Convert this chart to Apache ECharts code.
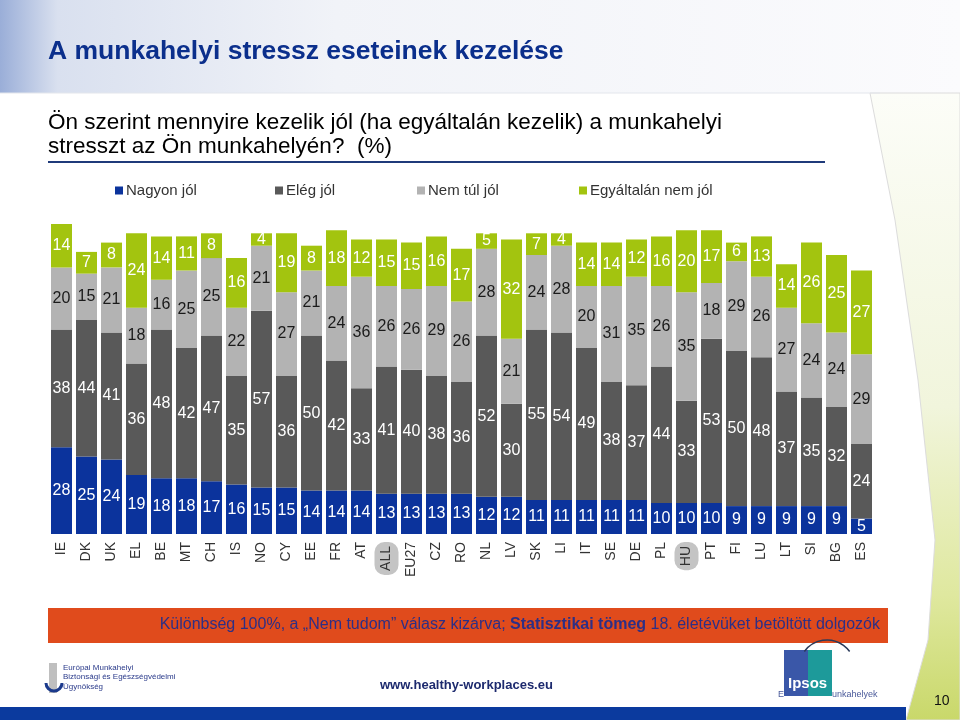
<!DOCTYPE html>
<html>
<head>
<meta charset="utf-8">
<script src="https://cdn.jsdelivr.net/npm/echarts@6/dist/echarts.min.js"></script>
<style>html,body{margin:0;padding:0;background:#fff;}#c{width:960px;height:720px;}</style>
</head>
<body>
<div id="c"></div>
<script>
const categories = ['IE','DK','UK','EL','BE','MT','CH','IS','NO','CY','EE','FR','AT','ALL','EU27','CZ','RO','NL','LV','SK','LI','IT','SE','DE','PL','HU','PT','FI','LU','LT','SI','BG','ES'];
const nagyonJol = [28,25,24,19,18,18,17,16,15,15,14,14,14,13,13,13,13,12,12,11,11,11,11,11,10,10,10,9,9,9,9,9,5];
const elegJol   = [38,44,41,36,48,42,47,35,57,36,50,42,33,41,40,38,36,52,30,55,54,49,38,37,44,33,53,50,48,37,35,32,24];
const nemTulJol = [20,15,21,18,16,25,25,22,21,27,21,24,36,26,26,29,26,28,21,24,28,20,31,35,26,35,18,29,26,27,24,24,29];
const egyaltalanNemJol = [14,7,8,24,14,11,8,16,4,19,8,18,12,15,15,16,17,5,32,7,4,14,14,12,16,20,17,6,13,14,26,25,27];
const seriesNames = ['Nagyon jól','Elég jól','Nem túl jól','Egyáltalán nem jól'];
const highlighted = ['ALL','HU'];

const FONT = "'Liberation Sans',Arial,sans-serif";
const colors = ['#0b339c','#595959','#b3b3b3','#a3c40f'];
const labelColors = ['#ffffff','#ffffff','#1a1a1a','#ffffff'];
const dataSets = [nagyonJol, elegJol, nemTulJol, egyaltalanNemJol];

const chart = echarts.init(document.getElementById('c'), null, {renderer:'canvas'});

const series = dataSets.map((d,i)=>({
  name: seriesNames[i],
  type: 'bar',
  stack: 'total',
  data: d,
  barWidth: 21,
  itemStyle: {color: colors[i]},
  label: {show:true, position:'inside', color: labelColors[i], fontSize:16, fontFamily: FONT},
  emphasis: {disabled:true}
}));

const legendX = [110, 270, 412, 574];
const legends = seriesNames.map((n,i)=>({
  data:[n], left: legendX[i], top: 178, icon:'rect', itemWidth:8, itemHeight:8, itemGap:4,
  textStyle:{fontSize:15, color:'#333', fontFamily: FONT, padding:[0,0,0,-2]}, selectedMode:false
}));

chart.setOption({
  animation:false,
  backgroundColor:'#ffffff',
  color: colors,
  legend: legends,
  grid: {left:49, right:86, top:224, bottom:186, containLabel:false},
  xAxis: {
    type:'category', data: categories,
    axisLine:{show:false}, axisTick:{show:false},
    axisLabel:{
      rotate:90, margin:8, fontSize:14, color:'#333', fontFamily: FONT, interval:0,
      formatter: v => highlighted.includes(v) ? '{h|'+v+'}' : v,
      rich:{h:{backgroundColor:'#c4c4c4', borderRadius:10, padding:[5,4,5,4], fontSize:14, color:'#333', fontFamily: FONT}}
    }
  },
  yAxis: {type:'value', min:0, max:100, show:false, splitLine:{show:false}},
  series: series,
  graphic: [
    {type:'rect', z:-10, shape:{x:0,y:0,width:960,height:93},
      style:{fill:new echarts.graphic.LinearGradient(0,0,1,0,[{offset:0,color:'#9aaed8'},{offset:0.06,color:'#d9e0ef'},{offset:0.35,color:'#f1f3f8'},{offset:1,color:'#fbfbfd'}])}},
    {type:'line', z:-9, shape:{x1:0,y1:93,x2:880,y2:93}, style:{stroke:'#e3e6ec', lineWidth:1}},
    {type:'polygon', z:-10, shape:{points:[[870,93],[895,220],[918,380],[935,540],[928,640],[906,720],[960,720],[960,93]]},
      style:{fill:new echarts.graphic.LinearGradient(0,0,0,1,[{offset:0,color:'#fcfdf8'},{offset:0.5,color:'#f1f5dc'},{offset:0.8,color:'#dfe89f'},{offset:1,color:'#c9d86a'}]), stroke:'#dcdcdc', lineWidth:1}},
    {type:'text', left:48, top:38, style:{text:'A munkahelyi stressz eseteinek kezelése', fontSize:26.5, fontWeight:'bold', fill:'#0b2f8c', fontFamily: FONT}},
    {type:'text', left:48, top:111, style:{text:'Ön szerint mennyire kezelik jól (ha egyáltalán kezelik) a munkahelyi\nstresszt az Ön munkahelyén?  (%)', fontSize:22.5, lineHeight:24, fill:'#000', fontFamily: FONT}},
    {type:'line', shape:{x1:48,y1:162,x2:825,y2:162}, style:{stroke:'#1f3a7a', lineWidth:2}},
    {type:'rect', shape:{x:48,y:608,width:840,height:35}, style:{fill:'#e04b1c'}},
    {type:'text', right:80, top:617, style:{
      text:'{n|Különbség 100%, a „Nem tudom” válasz kizárva; }{b|Statisztikai tömeg}{n| 18. életévüket betöltött dolgozók}',
      rich:{n:{fontSize:16, fill:'#2d2f86', fontFamily: FONT}, b:{fontSize:16, fontWeight:'bold', fill:'#2d2f86', fontFamily: FONT}}
    }},
    {type:'rect', shape:{x:0,y:707,width:906,height:13}, style:{fill:'#0b3a9e'}},
    {type:'text', left:934, top:694, style:{text:'10', fontSize:14, fill:'#111', fontFamily: FONT}},
    {type:'text', left:380, top:679, style:{text:'www.healthy-workplaces.eu', fontSize:13, fontWeight:'bold', fill:'#1d2a6e', fontFamily: FONT}},
    {type:'rect', shape:{x:49,y:663,width:8,height:30}, style:{fill:'#bfbfbf'}},
    {type:'arc', shape:{cx:54,cy:683,r:8,startAngle:0,endAngle:Math.PI}, style:{stroke:'#1b3a8c', lineWidth:3, fill:'none'}},
    {type:'text', left:63, top:663, style:{text:'Európai Munkahelyi\nBiztonsági és Egészségvédelmi\nÜgynökség', fontSize:8, lineHeight:9.5, fill:'#2a3a8a', fontFamily: FONT}},
    {type:'rect', shape:{x:784,y:650,width:24,height:46}, style:{fill:'#3a57a8'}},
    {type:'rect', shape:{x:808,y:650,width:24,height:46}, style:{fill:'#1d9a9a'}},
    {type:'arc', shape:{cx:827,cy:668,r:28,startAngle:Math.PI*1.2,endAngle:Math.PI*1.8}, style:{stroke:'#2a3a5a', lineWidth:1.5, fill:'none'}},
    {type:'text', left:788, top:676, style:{text:'Ipsos', fontSize:15, fontWeight:'bold', fill:'#fff', fontFamily: FONT}},
    {type:'text', left:778, top:690, style:{text:'E', fontSize:9, fill:'#4a5a9a', fontFamily: FONT}},
    {type:'text', left:832, top:690, style:{text:'unkahelyek', fontSize:9, fill:'#4a5a9a', fontFamily: FONT}}
  ]
});
</script>
</body>
</html>
